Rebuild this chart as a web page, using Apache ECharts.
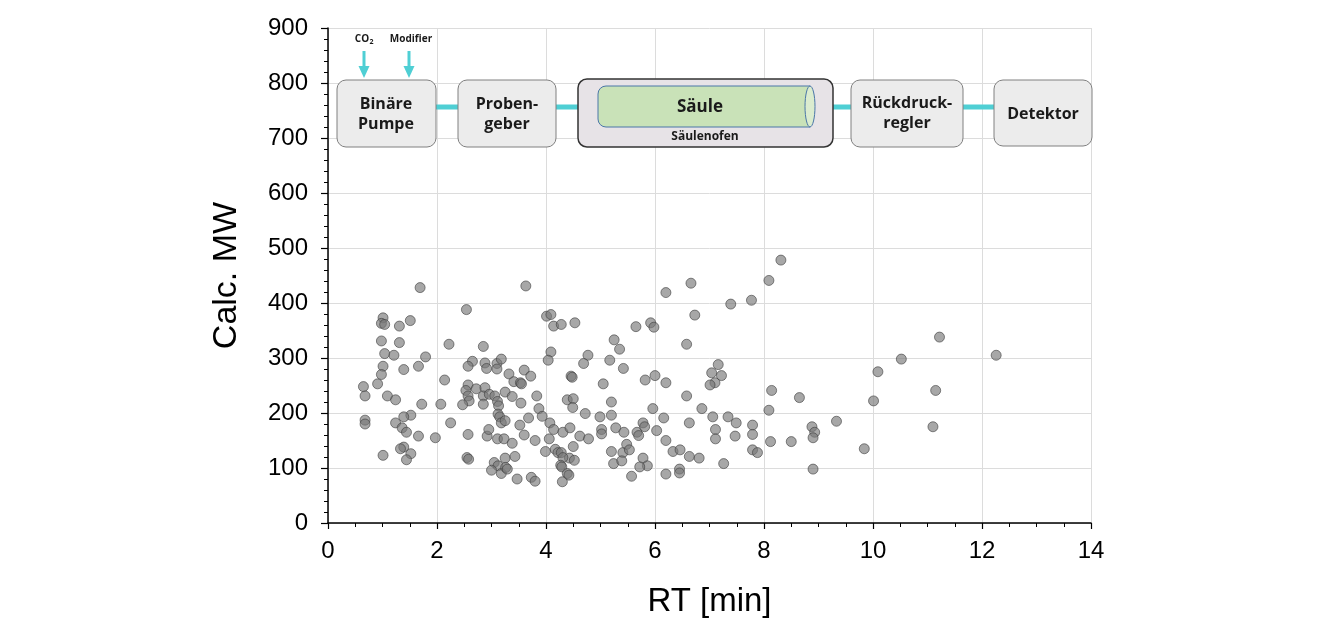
<!DOCTYPE html>
<html>
<head>
<meta charset="utf-8">
<script src="https://cdn.jsdelivr.net/npm/echarts@6.0.0/dist/echarts.min.js"></script>
<style>
  html, body { margin: 0; padding: 0; background: #fff; }
  #main { width: 1320px; height: 636px; }
</style>
</head>
<body>
<div id="main"></div>
<script>
// retention time [min] vs calculated molecular weight
var samples = [
  [1.69,428],[1.01,373],[0.98,363],[1.04,361],[1.31,358],[1.51,368],[0.98,331],[1.31,328],[2.22,325],[1.04,308],
  [1.21,305],[1.79,302],[1.01,285],[1.66,285],[1.39,279],[0.98,270],[2.14,260],[0.65,248],[0.91,253],[0.68,231],
  [1.09,231],[1.24,224],[1.72,216],[2.07,216],[1.52,196],[1.39,193],[0.68,187],[0.68,180],[1.24,182],[2.25,182],
  [1.36,173],[1.44,165],[1.66,158],[1.97,155],[1.39,138],[1.33,135],[1.52,126],[1.01,123],[1.44,115],
  [3.63,431],[2.54,388],[4.01,376],[4.09,379],[4.14,358],[2.85,321],[4.09,311],[4.04,296],[2.65,294],[2.57,285],
  [2.88,291],[2.91,281],[3.10,290],[3.18,298],[3.10,280],[3.32,271],[3.60,278],[3.72,267],[3.41,257],[3.53,255],
  [3.55,253],[2.57,251],[2.53,241],[2.72,244],[2.88,246],[2.57,231],[2.59,222],[2.47,215],[2.85,231],[2.85,216],
  [2.96,234],[3.06,231],[3.11,221],[3.13,213],[3.25,238],[3.38,230],[3.54,218],[3.83,231],[3.12,198],[3.15,193],
  [3.18,182],[3.25,186],[3.52,178],[3.68,191],[3.87,208],[3.93,194],[4.07,182],[4.14,170],[2.57,161],[2.92,158],
  [2.95,170],[3.11,153],[3.23,153],[3.38,145],[3.60,160],[3.80,150],[4.06,153],[3.99,130],[4.17,134],[4.22,128],
  [2.55,119],[2.58,116],[3.25,118],[3.43,121],[3.05,110],[3.12,104],[3.00,96],[3.18,90],[3.26,101],[3.29,98],
  [3.47,80],[3.73,83],[3.80,76],
  [6.20,419],[4.28,361],[4.53,364],[5.65,357],[5.92,364],[5.98,356],[5.25,333],[5.35,316],[4.77,305],[4.69,290],
  [5.17,296],[5.42,281],[4.46,267],[4.48,265],[5.05,253],[5.82,260],[6.00,268],[6.20,255],[4.39,224],[4.50,226],
  [4.49,210],[5.20,220],[4.72,199],[4.99,193],[5.20,196],[5.96,208],[6.16,191],[4.31,165],[4.44,173],[4.62,158],
  [4.78,153],[5.02,170],[5.02,162],[5.28,173],[5.43,165],[5.67,165],[5.70,159],[5.78,182],[5.81,175],[6.03,168],
  [6.20,150],[4.50,139],[4.28,128],[4.43,118],[4.52,114],[4.31,119],[4.27,105],[4.29,102],[4.39,90],[4.42,87],
  [4.30,75],[5.20,130],[5.41,128],[5.48,143],[5.53,133],[5.24,108],[5.39,113],[5.78,118],[5.86,104],[5.72,102],
  [5.57,85],[6.20,89],
  [8.31,478],[6.66,436],[8.09,441],[7.39,398],[7.77,405],[6.73,378],[6.58,325],[7.16,288],[7.04,273],[7.22,268],
  [7.10,255],[7.01,251],[6.58,231],[8.14,241],[6.86,208],[8.09,205],[6.63,182],[7.06,193],[7.34,193],[7.49,182],
  [7.79,178],[7.11,170],[7.11,153],[7.47,158],[7.79,161],[8.12,148],[6.33,130],[6.46,133],[6.63,121],[6.81,118],
  [7.26,108],[7.79,133],[7.88,128],[6.45,98],[6.45,91],
  [11.22,338],[10.52,298],[10.09,275],[11.15,241],[8.65,228],[10.01,222],[9.33,185],[8.88,175],[8.93,165],[8.90,155],
  [8.50,148],[11.10,175],[9.84,135],[8.90,98],[12.26,305]
];

var xRange = [0, 14];
var yRange = [0, 900];

var myChart = echarts.init(document.getElementById('main'));

var cyan = '#4fcfd4';
var boxFill = '#ececec';
var boxLine = '#808080';
var axisFont = '"Liberation Sans", Arial, sans-serif';

function box(x, y, w, h) {
	return {
		type: 'rect', z: 10,
		shape: { x: x, y: y, width: w, height: h, r: 9 },
		style: { fill: boxFill, stroke: boxLine, lineWidth: 1 }
	};
}
function label(text, x, y, size) {
	return {
		type: 'text', z: 20,
		style: {
			text: text, x: x, y: y,
			fontSize: size, fontWeight: 'bold', fontFamily: '"Open Sans", "Noto Sans", sans-serif',
			fill: '#1a1a1a', align: 'center', verticalAlign: 'middle', lineHeight: 20
		}
	};
}
function pipe(x1, x2) {
	return {
		type: 'line', z: 5,
		shape: { x1: x1, y1: 107, x2: x2, y2: 107 },
		style: { stroke: cyan, lineWidth: 5 }
	};
}
function arrow(x) {
	return [{
		type: 'rect', z: 10,
		shape: { x: x - 1.5, y: 51, width: 3, height: 17 },
		style: { fill: cyan }
	}, {
		type: 'polygon', z: 10,
		shape: { points: [[x - 5.5, 66], [x + 5.5, 66], [x, 78]] },
		style: { fill: cyan }
	}];
}

var elements = [
	pipe(434, 460), pipe(554, 600), pipe(812, 853), pipe(961, 996),
	box(337, 80, 99, 67),
	box(458, 80, 98, 67),
	{
		type: 'rect', z: 10,
		shape: { x: 578, y: 79, width: 255, height: 68, r: 9 },
		style: { fill: '#e7e3e7', stroke: '#333', lineWidth: 1.5 }
	},
	{
		type: 'rect', z: 11,
		shape: { x: 598, y: 86, width: 212, height: 41, r: [8, 0, 0, 8] },
		style: { fill: '#c9e2b8', stroke: '#4a76a8', lineWidth: 1 }
	},
	{
		type: 'ellipse', z: 12,
		shape: { cx: 810, cy: 106.5, rx: 5, ry: 20.5 },
		style: { fill: '#dbeccf', stroke: '#4a76a8', lineWidth: 1 }
	},
	box(851, 80, 112, 67),
	box(994, 80, 98, 66),
	label('Binäre\nPumpe', 386, 114, 16),
	label('Proben-\ngeber', 507, 114, 16),
	label('Säule', 700, 107, 17),
	label('Säulenofen', 705, 137, 12),
	label('Rückdruck-\nregler', 907, 113, 16),
	label('Detektor', 1043, 114, 16),
	label('CO', 362, 39, 10),
	label('2', 371.5, 42, 7),
	label('Modifier', 411, 39, 10)
].concat(arrow(364), arrow(409));

var option = {
	animation: false,
	backgroundColor: '#fff',
	grid: {
		left: 328, right: 229, top: 28, bottom: 113,
		outerBoundsMode: 'none'
	},
	xAxis: {
		type: 'value',
		min: xRange[0], max: xRange[1], interval: 2,
		name: 'RT [min]', nameLocation: 'middle', nameGap: 62,
		nameTextStyle: { fontSize: 33, color: '#000', fontFamily: axisFont },
		axisLine: { show: true, onZero: false, lineStyle: { color: '#000', width: 1.5 } },
		axisTick: { show: true, inside: false, length: 6, lineStyle: { color: '#000', width: 1.2 } },
		minorTick: { show: true, splitNumber: 4, length: 4, lineStyle: { color: '#000', width: 1 } },
		axisLabel: { fontSize: 24, color: '#000', margin: 16, fontFamily: axisFont },
		splitLine: { show: true, lineStyle: { color: '#dcdcdc', width: 1 } }
	},
	yAxis: {
		type: 'value',
		min: yRange[0], max: yRange[1], interval: 100,
		name: 'Calc. MW', nameLocation: 'middle', nameGap: 84, nameRotate: 90,
		nameTextStyle: { fontSize: 34, color: '#000', fontFamily: axisFont },
		axisLine: { show: true, onZero: false, lineStyle: { color: '#000', width: 1.5 } },
		axisTick: { show: true, inside: false, length: 7, lineStyle: { color: '#000', width: 1.2 } },
		minorTick: { show: true, splitNumber: 5, length: 4, lineStyle: { color: '#000', width: 1 } },
		axisLabel: { fontSize: 24, color: '#000', margin: 20, fontFamily: axisFont },
		splitLine: { show: true, lineStyle: { color: '#dcdcdc', width: 1 } }
	},
	series: [{
		type: 'scatter',
		symbol: 'circle',
		symbolSize: 10,
		itemStyle: {
			color: 'rgba(120,120,120,0.65)',
			borderColor: 'rgba(60,60,60,0.6)',
			borderWidth: 1,
			opacity: 1
		},
		data: samples
	}],
	graphic: { elements: elements }
};
myChart.setOption(option);
</script>
</body>
</html>
